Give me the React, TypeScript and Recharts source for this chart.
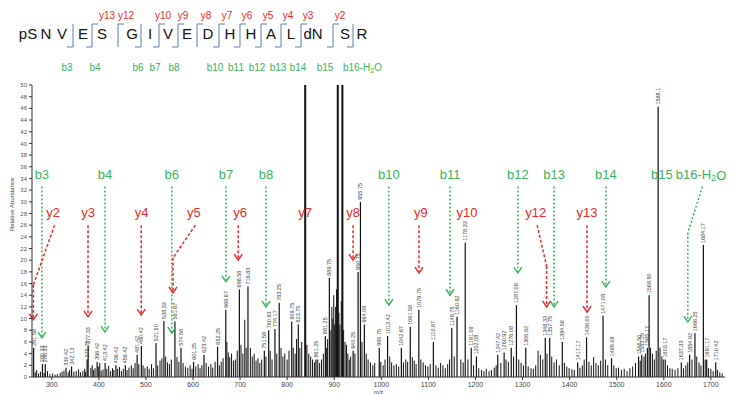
import React from 'react';
import { ComposedChart, Bar, XAxis, YAxis, ReferenceLine, ReferenceDot } from 'recharts';

const PLOT_TOP = 85;
const GREEN = '#3bb25f';
const RED = '#e8282b';
const FONT = '"Liberation Sans", Arial, sans-serif';

// labelled peaks: [label (m/z), relative abundance]
const labelledPeaks: [string, number][] = [
  ['261.58', 5.0], ['280.33', 2.2], ['286.33', 2.2], ['330.42', 1.6], ['342.13', 1.8],
  ['375.25', 3.0], ['377.33', 5.3], ['396.42', 2.6], ['413.42', 2.4], ['436.42', 2.0],
  ['456.42', 2.0], ['481.42', 3.8], ['490.42', 5.3], ['521.50', 5.8], ['538.33', 9.6],
  ['561.67', 9.5], ['574.58', 5.0], ['601.25', 2.6], ['623.42', 3.8], ['652.25', 5.2],
  ['669.67', 11.5], ['698.58', 15.0], ['716.83', 15.5], ['751.58', 4.5], ['760.83', 8.0],
  ['774.17', 8.2], ['783.25', 12.7], ['809.75', 9.5], ['823.75', 9.0], ['861.25', 3.0],
  ['881.25', 7.0], ['889.75', 17.0], ['940.25', 4.5], ['950.75', 18.0], ['955.75', 30.0],
  ['964.08', 9.0], ['995.75', 5.0], ['1013.42', 7.0], ['1042.67', 5.0], ['1061.58', 8.6],
  ['1079.75', 11.5], ['1110.67', 6.0], ['1149.75', 8.4], ['1160.92', 10.3], ['1178.33', 23.0],
  ['1191.08', 5.0], ['1202.08', 3.5], ['1247.42', 3.8], ['1260.92', 4.2], ['1276.08', 5.0],
  ['1287.08', 12.3], ['1306.92', 5.0], ['1348.33', 6.7], ['1357.75', 6.7], ['1384.58', 6.0],
  ['1417.17', 2.5], ['1436.00', 6.8], ['1471.08', 10.5], ['1489.08', 3.2], ['1546.50', 3.5],
  ['1553.25', 3.8], ['1565.17', 5.0], ['1568.90', 14.0], ['1588.1', 46.3], ['1603.17', 3.0],
  ['1637.33', 2.5], ['1654.92', 3.8], ['1666.25', 7.5], ['1684.17', 22.6], ['1691.17', 3.0],
  ['1710.42', 2.5],
];

// off-scale peaks (clipped at the top of the plot)
const tallPeaks: [number, number][] = [[838.4, 95], [907.6, 95], [917.4, 95]];

// unlabelled peaks: [m/z, relative abundance]
const minorPeaks: [number, number][] = [
  [265, 0.8], [268, 1.2], [272, 0.6], [276, 0.9], [284, 0.7], [291, 1.0], [296, 0.5], [302, 0.6],
  [307, 0.4], [312, 0.5], [318, 0.7], [322, 0.9], [326, 1.1], [335, 0.8], [338, 1.2], [347, 0.9],
  [352, 1.0], [357, 1.3], [361, 0.8], [366, 1.0], [370, 1.4], [372, 0.9], [383, 1.6], [386, 2.0],
  [389, 1.2], [392, 1.5], [399, 1.8], [402, 2.4], [405, 1.1], [409, 1.3], [417, 1.4], [421, 1.9],
  [425, 1.0], [429, 1.5], [432, 1.2], [440, 1.4], [444, 1.7], [448, 1.0], [452, 1.4], [460, 1.2],
  [464, 1.6], [469, 2.0], [473, 1.5], [477, 2.4], [485, 2.2], [494, 2.0], [498, 1.5], [503, 1.8],
  [507, 1.4], [512, 2.2], [516, 1.5], [525, 2.0], [530, 2.8], [534, 3.2], [542, 3.5], [546, 2.5],
  [550, 2.2], [554, 3.0], [566, 3.4], [570, 2.6], [579, 2.4], [584, 1.8], [589, 1.6], [594, 2.0],
  [598, 1.4], [606, 1.8], [611, 2.2], [615, 1.5], [619, 2.0], [628, 2.4], [633, 1.8], [638, 2.2],
  [642, 1.6], [647, 2.6], [656, 2.0], [660, 2.6], [664, 3.2], [672, 6.0], [675, 4.2], [678, 3.4],
  [682, 4.0], [686, 2.8], [690, 3.0], [694, 4.5], [702, 5.5], [706, 4.0], [710, 9.8], [713, 5.0],
  [722, 5.0], [726, 3.5], [730, 4.0], [734, 2.8], [738, 3.2], [742, 2.4], [746, 3.0], [755, 3.5],
  [764, 4.5], [768, 3.0], [778, 4.0], [787, 5.0], [791, 3.5], [795, 4.0], [800, 3.0], [804, 4.5],
  [813, 5.0], [817, 4.0], [820, 6.5], [827, 5.0], [831, 6.0], [842, 5.5], [846, 4.0], [850, 3.5],
  [854, 3.0], [858, 2.5], [865, 3.0], [869, 2.4], [873, 3.0], [877, 4.0], [884, 5.0], [886, 6.5],
  [893, 8.0], [895, 12.0], [897, 10.0], [899, 14.0], [901, 9.0], [903, 12.0], [905, 15.0],
  [910, 11.0], [912, 9.0], [915, 13.0], [920, 8.0], [923, 6.0], [926, 5.5], [929, 4.0], [932, 3.0],
  [935, 3.5], [944, 4.0], [959, 6.0], [968, 4.0], [972, 3.0], [977, 2.5], [982, 2.0], [986, 2.4],
  [999, 2.6], [1004, 2.0], [1008, 3.0], [1018, 3.5], [1022, 2.5], [1027, 2.0], [1032, 2.2],
  [1037, 1.8], [1047, 2.5], [1052, 3.0], [1056, 2.6], [1066, 3.4], [1070, 2.8], [1074, 2.2],
  [1084, 3.0], [1089, 2.5], [1094, 2.0], [1099, 1.8], [1104, 2.2], [1116, 2.0], [1121, 1.6],
  [1126, 2.4], [1131, 2.0], [1136, 1.5], [1141, 2.2], [1145, 3.0], [1155, 3.5], [1169, 3.0],
  [1174, 2.5], [1184, 3.0], [1196, 2.0], [1207, 1.5], [1213, 1.2], [1218, 1.0], [1223, 1.4],
  [1229, 1.0], [1234, 1.2], [1240, 1.6], [1244, 2.0], [1254, 2.4], [1265, 3.0], [1270, 2.6],
  [1281, 3.5], [1292, 3.0], [1297, 2.4], [1302, 2.0], [1312, 1.8], [1318, 1.5], [1323, 1.4],
  [1328, 2.0], [1333, 4.5], [1338, 3.8], [1343, 3.0], [1352, 4.0], [1362, 3.5], [1367, 2.5],
  [1372, 3.0], [1378, 2.0], [1389, 2.4], [1394, 1.8], [1399, 1.5], [1405, 1.3], [1410, 1.2],
  [1422, 1.6], [1427, 2.0], [1431, 3.0], [1441, 2.6], [1446, 2.0], [1451, 3.4], [1456, 2.4],
  [1461, 2.0], [1466, 2.8], [1476, 3.0], [1481, 2.0], [1494, 2.0], [1499, 1.5], [1504, 1.6],
  [1510, 1.2], [1516, 1.4], [1522, 1.0], [1528, 1.5], [1534, 1.8], [1540, 2.4], [1550, 2.8],
  [1558, 3.5], [1561, 4.0], [1572, 5.0], [1576, 4.0], [1580, 3.0], [1584, 4.5], [1592, 5.0],
  [1596, 3.5], [1599, 3.0], [1608, 2.0], [1613, 1.5], [1618, 1.4], [1624, 1.2], [1630, 1.5],
  [1642, 1.5], [1647, 2.0], [1651, 2.5], [1660, 3.0], [1670, 3.5], [1675, 2.5], [1679, 2.0],
  [1688, 3.0], [1695, 1.5], [1700, 1.4], [1705, 1.0], [1714, 1.2], [1719, 0.8], [1724, 0.6],
];

const xTicks = [300, 400, 500, 600, 700, 800, 900, 1000, 1100, 1200, 1300, 1400, 1500, 1600, 1700];
const yTicks = [0, 2, 4, 6, 8, 10, 12, 14, 16, 18, 20, 22, 24, 26, 28, 30, 32, 34, 36, 38, 40, 42, 44, 46, 48, 50];

// ion annotations: [name, label m/z, arrow tip m/z, tip abundance (0 = none), bend abundance or null]
const bIons: [string, number, number, number, number | null][] = [
  ['b3', 279, 279, 6.7, null], ['b4', 413, 413, 7.7, null], ['b6', 555, 555, 7.5, null],
  ['b7', 670, 670, 16.3, null], ['b8', 755, 755, 12.0, null], ['b10', 1016, 1016, 12.3, null],
  ['b11', 1146, 1146, 14.0, null], ['b12', 1290, 1290, 17.8, null], ['b13', 1367, 1367, 12.0, null],
  ['b14', 1477, 1477, 15.4, null], ['b15', 1596, 1596, 0, null], ['b16-H2O', 1679, 1651, 9.4, 24.7],
];
const yIons: [string, number, number, number, number | null][] = [
  ['y2', 303, 261, 9.8, 15.8], ['y3', 377, 377, 10.3, null], ['y4', 491, 490, 10.6, null],
  ['y5', 602, 557.5, 14.4, 20.4], ['y6', 700, 696, 20.0, null], ['y7', 838, 838, 0, null],
  ['y8', 940, 940, 20.0, null], ['y9', 1084, 1080, 17.8, null], ['y10', 1182, 1182, 0, null],
  ['y12', 1328, 1351, 12.0, 19.0], ['y13', 1437, 1437, 11.1, null],
];
const B_ROW = 34.6;
const Y_ROW = 28.1;

// peptide header
const residues = ['pS', 'N', 'V', 'E', 'S', 'G', 'I', 'V', 'E', 'D', 'H', 'H', 'A', 'L', 'dN', 'S', 'R'];
const residueX = [28, 46, 62, 83, 102, 132, 150, 168, 187, 208, 230, 251, 271, 291, 313, 345, 362];
// [bracket x, b label, b label x, y label, y label x]
const cleavages: [number, string, number, string, number][] = [
  [73, 'b3', 67, '', 0], [92, 'b4', 95, 'y13', 107], [118, '', 0, 'y12', 126],
  [141, 'b6', 138, '', 0], [159, 'b7', 155, 'y10', 163], [178, 'b8', 174, 'y9', 183],
  [197, '', 0, 'y8', 206], [219, 'b10', 215, 'y7', 227], [240, 'b11', 236, 'y6', 247],
  [261, 'b12', 257, 'y5', 268], [281, 'b13', 278, 'y4', 288], [301, 'b14', 298, 'y3', 308],
  [333, 'b15', 325, 'y2', 340], [353, 'b16-H2O', 343, '', 0],
];

const data = [
  ...minorPeaks.map(([mz, i]) => ({ mz, i, lab: '', w: 1 })),
  ...labelledPeaks.map(([lab, i]) => ({ mz: parseFloat(lab), i, lab, w: 1.2 })),
  ...tallPeaks.map(([mz, i]) => ({ mz, i, lab: '', w: 2 })),
].sort((a, b) => a.mz - b.mz);

const Peak = (props: any) => {
  const { x, y, width, height, payload } = props;
  const cx = x + width / 2;
  const bottom = y + height;
  const top = Math.max(y, PLOT_TOP);
  return (
    <g>
      <rect x={cx - payload.w / 2} y={top} width={payload.w} height={Math.max(0, bottom - top)} fill="#111" />
      {payload.lab ? (
        <text
          x={cx + 2}
          y={top - 2}
          transform={`rotate(-90 ${cx + 2} ${top - 2})`}
          fontSize={5.5}
          fill="#444"
          fontFamily={FONT}
        >
          {payload.lab}
        </text>
      ) : null}
    </g>
  );
};

const segShape = (color: string, dash: string, head: boolean) => (p: any) => (
  <g>
    <line x1={p.x1} y1={p.y1} x2={p.x2} y2={p.y2} stroke={color} strokeWidth={1.5} strokeDasharray={dash} />
    {head ? (
      <polyline
        points={`${p.x2 - 4},${p.y2 - 6} ${p.x2},${p.y2} ${p.x2 + 4},${p.y2 - 6}`}
        fill="none"
        stroke={color}
        strokeWidth={1.4}
      />
    ) : null}
  </g>
);

const IonText = ({ name, color, cx, cy, size }: any) => {
  if (name.endsWith('H2O')) {
    return (
      <text x={cx} y={cy} textAnchor="middle" dominantBaseline="central" fill={color} fontSize={size} fontFamily={FONT}>
        {name.slice(0, -2)}
        <tspan fontSize={size * 0.7} dy={size * 0.25}>2</tspan>
        <tspan dy={-size * 0.25}>O</tspan>
      </text>
    );
  }
  return (
    <text x={cx} y={cy} textAnchor="middle" dominantBaseline="central" fill={color} fontSize={size} fontFamily={FONT}>
      {name}
    </text>
  );
};

function renderIons(ions: typeof bIons, row: number, start: number, color: string, dash: string) {
  const out: React.ReactNode[] = [];
  ions.forEach(([name, lx, tx, tip, bend]) => {
    out.push(
      <ReferenceDot
        key={`t-${name}`}
        x={lx}
        y={row}
        r={0}
        ifOverflow="visible"
        shape={(p: any) => <IonText name={name} color={color} cx={p.cx} cy={p.cy} size={13} />}
      />
    );
    if (!tip) return;
    if (bend !== null) {
      out.push(
        <ReferenceLine
          key={`a-${name}`}
          segment={[{ x: lx + 3, y: start }, { x: tx, y: bend }]}
          ifOverflow="visible"
          shape={segShape(color, dash, false)}
        />,
        <ReferenceLine
          key={`b-${name}`}
          segment={[{ x: tx, y: bend }, { x: tx, y: tip }]}
          ifOverflow="visible"
          shape={segShape(color, dash, true)}
        />
      );
    } else {
      out.push(
        <ReferenceLine
          key={`a-${name}`}
          segment={[{ x: tx, y: start }, { x: tx, y: tip }]}
          ifOverflow="visible"
          shape={segShape(color, dash, true)}
        />
      );
    }
  });
  return out;
}

const Header = () => (
  <svg width={734} height={80} style={{ position: 'absolute', left: 0, top: 0 }}>
    {residues.map((r, i) => (
      <text key={i} x={residueX[i]} y={39} textAnchor="middle" fontSize={15} fill="#111" fontFamily={FONT}>
        {r}
      </text>
    ))}
    {cleavages.map(([bx, bl, , yl], i) => (
      <g key={i} stroke="#5b7db8" strokeWidth={1} fill="none">
        <line x1={bx} y1={24} x2={bx} y2={47} />
        {yl ? <line x1={bx} y1={24} x2={bx + 6} y2={24} /> : null}
        {bl ? <line x1={bx - 6} y1={47} x2={bx} y2={47} /> : null}
      </g>
    ))}
    {cleavages.map(([, bl, blx, yl, ylx], i) => (
      <g key={`l${i}`}>
        {yl ? (
          <text x={ylx} y={15} textAnchor="middle" dominantBaseline="central" fontSize={10} fill={RED} fontFamily={FONT}>
            {yl}
          </text>
        ) : null}
        {bl ? (
          bl.endsWith('H2O') ? (
            <text x={blx} y={67} dominantBaseline="central" fontSize={10} fill={GREEN} fontFamily={FONT}>
              b16-H<tspan fontSize={7} dy={2.5}>2</tspan><tspan dy={-2.5}>O</tspan>
            </text>
          ) : (
            <text x={blx} y={67} textAnchor="middle" dominantBaseline="central" fontSize={10} fill={GREEN} fontFamily={FONT}>
              {bl}
            </text>
          )
        ) : null}
      </g>
    ))}
  </svg>
);

export default function App() {
  return (
    <div style={{ position: 'absolute', left: 0, top: 0, width: 734, height: 394, background: '#fff', fontFamily: FONT }}>
      <ComposedChart width={734} height={394} data={data} margin={{ top: PLOT_TOP, right: 9, bottom: 0, left: 0 }}>
        <XAxis
          type="number"
          dataKey="mz"
          domain={[258, 1730]}
          ticks={xTicks}
          interval={0}
          height={17}
          tickSize={3}
          tick={{ fontSize: 7, fill: '#444' }}
          stroke="#333"
          label={{ value: 'm/z', position: 'insideBottom', offset: 0, fontSize: 6, fill: '#444' }}
        />
        <YAxis
          type="number"
          domain={[0, 50]}
          ticks={yTicks}
          interval={0}
          allowDataOverflow
          width={32}
          tickSize={3}
          tick={{ fontSize: 6, fill: '#555' }}
          stroke="#333"
          label={{ value: 'Relative Abundance', angle: -90, position: 'insideLeft', offset: 12, fontSize: 6, fill: '#444' }}
        />
        <Bar dataKey="i" barSize={1} isAnimationActive={false} shape={Peak} />
        {renderIons(bIons, B_ROW, 32.6, GREEN, '2 2')}
        {renderIons(yIons, Y_ROW, 26.0, RED, '3 2')}
      </ComposedChart>
      <Header />
    </div>
  );
}
